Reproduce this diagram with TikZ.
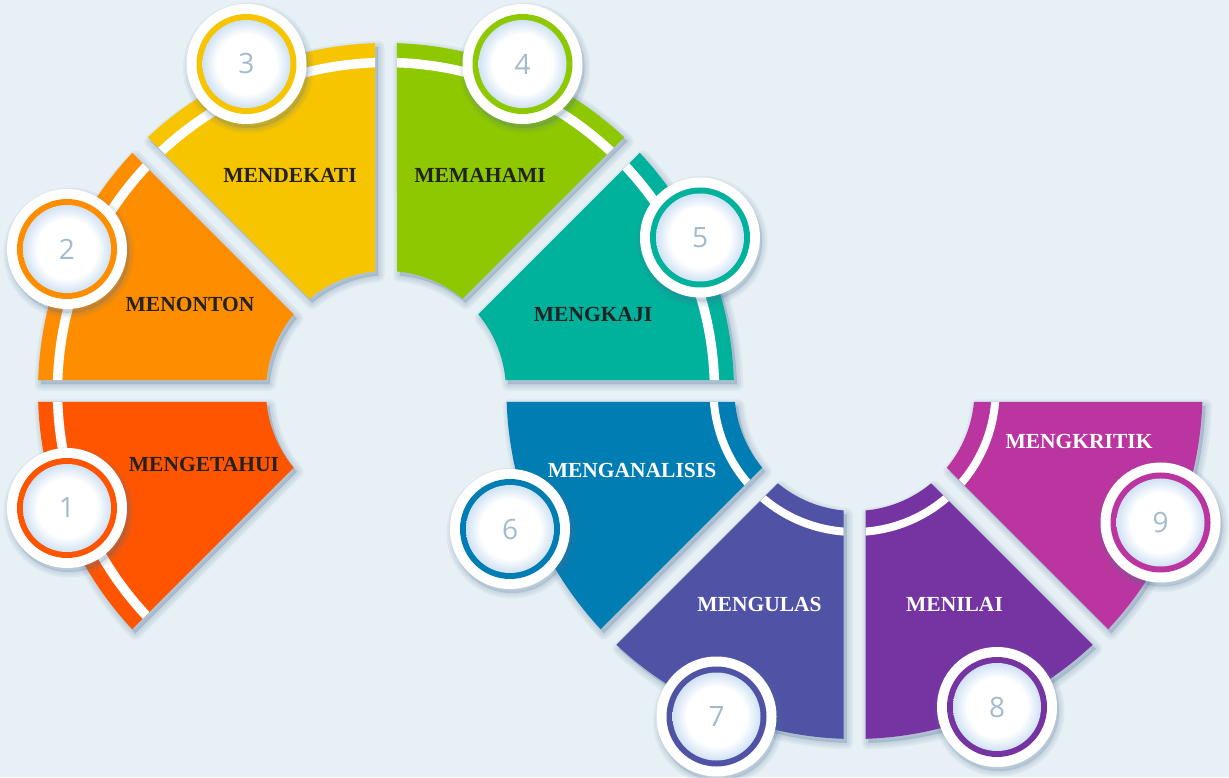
\documentclass[tikz,border=0pt]{standalone}
\usepackage{fontspec}
\setmainfont{Liberation Serif}
\newfontfamily\numfont{Open Sans}
\definecolor{bg}{HTML}{E7F0F4}
\definecolor{cA}{HTML}{FF5500}
\definecolor{cB}{HTML}{FF8D00}
\definecolor{cC}{HTML}{F7C400}
\definecolor{cD}{HTML}{8DC800}
\definecolor{cE}{HTML}{00B19B}
\definecolor{cF}{HTML}{007DB2}
\definecolor{cG}{HTML}{4F52A5}
\definecolor{cH}{HTML}{7634A2}
\definecolor{cI}{HTML}{BB35A0}
\definecolor{numgray}{HTML}{A3BBCD}
\definecolor{glow}{HTML}{D0E2F4}
\definecolor{shcol}{HTML}{4F7399}
\definecolor{darktxt}{HTML}{222222}
\pgfdeclareradialshading{badgeglow}{\pgfpoint{0bp}{0bp}}{color(0bp)=(white); color(17bp)=(white); color(25bp)=(glow); color(50bp)=(glow)}
\tikzset{
  softshadow/.style={fill=shcol, draw=shcol, fill opacity=0.07, draw opacity=0.07, line width=#1, line join=round},
  lbl/.style={font=\fontsize{21.5}{24}\selectfont\bfseries, text=#1, inner sep=0pt, text height=14pt, text depth=0pt},
  numtxt/.style={font=\numfont\fontsize{28}{30}\selectfont, text=numgray, inner sep=0pt},
}
% segment outline: #1 a1, #2 a2
\newcommand\segPath[2]{(#1+1.811:348pt) arc[start angle=#1+1.811, end angle=#2-1.811, radius=348pt] -- (#2-5.26:120pt) arc[start angle=#2-5.26, end angle=#1+5.26, radius=120pt] -- cycle}
% #1 center, #2 a1, #3 a2, #4 colour, #5 stripe radius, #6 stripe width
\newcommand\mySeg[6]{%
  \begin{scope}[shift={(#1)}]
    \begin{scope}[shift={(3,-4)}]
      \foreach \w in {13,9,5,1} {\path[softshadow=\w pt] \segPath{#2}{#3};}
    \end{scope}
    \fill[#4] \segPath{#2}{#3};
    \begin{scope}
      \clip \segPath{#2}{#3};
      \draw[white, line width=#6] (#2:#5) arc[start angle=#2, end angle=#3, radius=#5];
    \end{scope}
  \end{scope}
}
% #1 name, #2 position, #3 colour, #4 number
\newcommand\myBadge[4]{%
  \begin{scope}[shift={(2,-4)}]
    \foreach \w in {11,7,3} {\path[softshadow=\w pt] (#2) circle[radius=60pt];}
  \end{scope}
  \fill[white] (#2) circle[radius=60pt];
  \fill[#3] (#2) circle[radius=50pt];
  \shade[shading=badgeglow] (#2) circle[radius=44pt];
  \node[numtxt] (#1) at (#2) {#4};
}
\begin{document}
\begin{tikzpicture}[x=1pt,y=1pt]
  \fill[bg] (0,0) rectangle (1229,777);
  \useasboundingbox (0,0) rectangle (1229,777);
  \coordinate (CL) at (386,386);
  \coordinate (CR) at (854.5,386);
  % left ring
  \mySeg{CL}{180}{225}{cA}{328.5pt}{9.5pt}
  \mySeg{CL}{135}{180}{cB}{328.5pt}{9.5pt}
  \mySeg{CL}{90}{135}{cC}{328.5pt}{9.5pt}
  \mySeg{CL}{45}{90}{cD}{328.5pt}{9.5pt}
  \mySeg{CL}{0}{45}{cE}{328.5pt}{9.5pt}
  % right ring
  \mySeg{CR}{180}{225}{cF}{141pt}{8pt}
  \mySeg{CR}{225}{270}{cG}{141pt}{8pt}
  \mySeg{CR}{270}{315}{cH}{141pt}{8pt}
  \mySeg{CR}{315}{360}{cI}{141pt}{8pt}
  % labels
  \node[lbl=darktxt] (l1) at (204,312.5) {MENGETAHUI};
  \node[lbl=darktxt] (l2) at (190,472.5) {MENONTON};
  \node[lbl=darktxt] (l3) at (290,601.5) {MENDEKATI};
  \node[lbl=darktxt] (l4) at (480,601.5) {MEMAHAMI};
  \node[lbl=darktxt] (l5) at (593,462.5) {MENGKAJI};
  \node[lbl=white] (l6) at (632,306.5) {MENGANALISIS};
  \node[lbl=white] (l7) at (759.5,172) {MENGULAS};
  \node[lbl=white] (l8) at (954.5,172.5) {MENILAI};
  \node[lbl=white] (l9) at (1079,335) {MENGKRITIK};
  % badges
  \myBadge{n1}{67,269}{cA}{1}
  \myBadge{n2}{67,528}{cB}{2}
  \myBadge{n3}{246.5,713}{cC}{3}
  \myBadge{n4}{522.5,713}{cD}{4}
  \myBadge{n5}{700,539.5}{cE}{5}
  \myBadge{n6}{510,248}{cF}{6}
  \myBadge{n7}{716.5,60.5}{cG}{7}
  \myBadge{n8}{997,70}{cH}{8}
  \myBadge{n9}{1160.5,254.5}{cI}{9}
\end{tikzpicture}
\end{document}
